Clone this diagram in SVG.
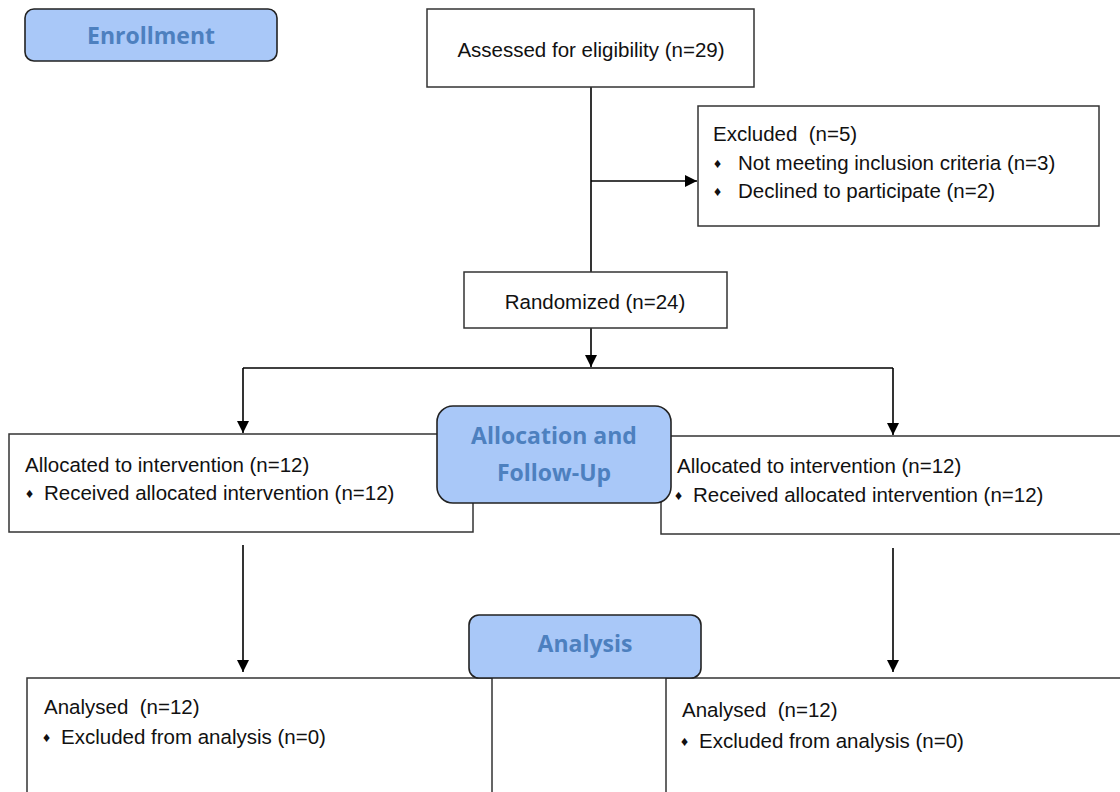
<svg xmlns="http://www.w3.org/2000/svg" width="1120" height="792" viewBox="0 0 1120 792">
<defs>
<marker id="ah" markerWidth="12" markerHeight="12" viewBox="0 0 12 12" refX="12" refY="6" orient="auto" markerUnits="userSpaceOnUse">
<path d="M0,0 L12,6 L0,12 Z" fill="#000"/>
</marker>
<style>
.box{fill:#fff;stroke:#333;stroke-width:1.5}
.hdr{fill:#a9c8f8;stroke:#222;stroke-width:1.6}
.t{font-family:"Liberation Sans",Arial,sans-serif;font-size:20.5px;fill:#111;white-space:pre}
.b{font-size:14px}
.h{font-family:"Open Sans","DejaVu Sans",sans-serif;font-weight:bold;font-size:23px;fill:#4d80bf;text-anchor:middle}
.c{fill:none;stroke:#000;stroke-width:1.6}
</style>
</defs>
<rect width="1120" height="792" fill="#fff"/>
<g id="connectors">
<line class="c" x1="591" y1="87" x2="591" y2="272"/>
<line class="c" x1="591" y1="181" x2="697" y2="181" marker-end="url(#ah)"/>
<line class="c" x1="591" y1="328" x2="591" y2="367" marker-end="url(#ah)"/>
<line class="c" x1="243" y1="368" x2="893" y2="368"/>
<line class="c" x1="243" y1="368" x2="243" y2="433" marker-end="url(#ah)"/>
<line class="c" x1="893" y1="368" x2="893" y2="435" marker-end="url(#ah)"/>
<line class="c" x1="243" y1="545" x2="243" y2="672" marker-end="url(#ah)"/>
<line class="c" x1="893" y1="548" x2="893" y2="672" marker-end="url(#ah)"/>
</g>
<g id="assessed">
<rect class="box" x="427" y="9" width="327" height="78"/>
<text class="t" x="591" y="56.5" text-anchor="middle">Assessed for eligibility (n=29)</text>
</g>
<g id="excluded">
<rect class="box" x="698" y="106" width="401" height="120"/>
<text class="t" x="713" y="140.5">Excluded  (n=5)</text>
<text class="t" x="714" y="168"><tspan class="b">♦</tspan></text>
<text class="t" x="738" y="169.5">Not meeting inclusion criteria (n=3)</text>
<text class="t" x="714" y="196"><tspan class="b">♦</tspan></text>
<text class="t" x="738" y="197.5">Declined to participate (n=2)</text>
</g>
<g id="randomized">
<rect class="box" x="464" y="272" width="263" height="56"/>
<text class="t" x="595" y="308.5" text-anchor="middle">Randomized (n=24)</text>
</g>
<g id="alloc-left">
<rect class="box" x="9" y="434" width="464" height="98"/>
<text class="t" x="25" y="471.5">Allocated to intervention (n=12)</text>
<text class="t" x="26" y="498"><tspan class="b">♦</tspan></text>
<text class="t" x="44" y="499.5">Received allocated intervention (n=12)</text>
</g>
<g id="alloc-right">
<rect class="box" x="661" y="436" width="470" height="98"/>
<text class="t" x="677" y="472.5">Allocated to intervention (n=12)</text>
<text class="t" x="675" y="500"><tspan class="b">♦</tspan></text>
<text class="t" x="693" y="501.5">Received allocated intervention (n=12)</text>
</g>
<g id="analysed-left">
<rect class="box" x="27" y="678" width="465" height="130"/>
<text class="t" x="44" y="713.5">Analysed  (n=12)</text>
<text class="t" x="43" y="742"><tspan class="b">♦</tspan></text>
<text class="t" x="61" y="743.5">Excluded from analysis (n=0)</text>
</g>
<g id="analysed-right">
<rect class="box" x="666" y="678" width="470" height="130"/>
<text class="t" x="682" y="716.5">Analysed  (n=12)</text>
<text class="t" x="681" y="746"><tspan class="b">♦</tspan></text>
<text class="t" x="699" y="747.5">Excluded from analysis (n=0)</text>
</g>
<g id="enrollment">
<rect class="hdr" x="25" y="9" width="252" height="52" rx="9"/>
<text class="h" x="151" y="44">Enrollment</text>
</g>
<g id="allocation">
<rect class="hdr" x="437" y="406" width="234" height="97" rx="16"/>
<text class="h" x="554" y="444">Allocation and</text>
<text class="h" x="554" y="481">Follow-Up</text>
</g>
<g id="analysis">
<rect class="hdr" x="469" y="615" width="232" height="63" rx="10"/>
<text class="h" x="585" y="652">Analysis</text>
</g>
</svg>
